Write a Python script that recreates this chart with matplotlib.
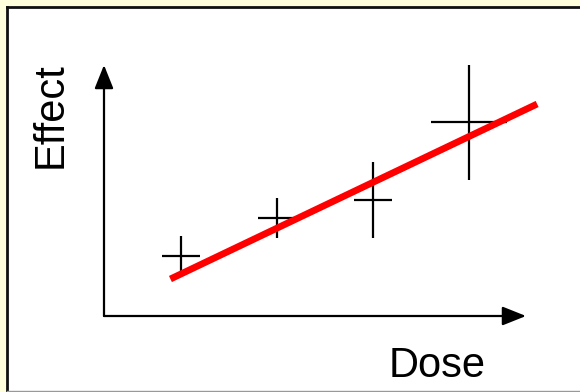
import matplotlib.pyplot as plt
from matplotlib.lines import Line2D
from matplotlib.patches import Rectangle

# measured points with their spread
dose = [1, 2, 3, 4]
effect = [3.0, 4.9, 5.8, 9.7]
dose_err = [0.2, 0.2, 0.2, 0.4]
effect_err = [1.0, 1.0, 1.9, 2.9]

# fitted trend line ends
fit_dose = [0.89, 4.71]
fit_effect = [1.85, 10.6]

W, H = 580, 392

plt.rcParams["font.family"] = ["Liberation Sans", "DejaVu Sans"]

fig = plt.figure(figsize=(W / 100, H / 100), dpi=100)
fig.patch.set_facecolor("#ffffdd")

# white panel with its frame, kept beneath the axes
fig.patches.append(Rectangle((6 / W, 1 / H), 1 - 6 / W, 1 - 7 / H,
                             transform=fig.transFigure,
                             facecolor="white", edgecolor="none", zorder=-2))
fig.add_artist(Line2D([7 / W, 1], [1 - 7 / H, 1 - 7 / H], color="#111111",
                      lw=2.0, zorder=-1))
fig.add_artist(Line2D([7 / W, 7 / W], [1.5 / H, 1 - 7 / H], color="#111111",
                      lw=2.0, zorder=-1))
fig.add_artist(Line2D([7 / W, 1], [1.5 / H, 1.5 / H], color="#999999",
                      lw=1.0, zorder=-1))

ax = fig.add_axes([104 / W, 76 / H, 422 / W, 251 / H])
ax.set_facecolor("none")
ax.set_xlim(0.198, 4.594)
ax.set_ylim(0, 12.55)
for side in ax.spines.values():
    side.set_visible(False)
ax.set_xticks([])
ax.set_yticks([])

# axes drawn as arrows
arrow = dict(arrowstyle="-|>,head_length=1.45,head_width=0.58",
             mutation_scale=10, lw=1.6, color="black",
             shrinkA=0, shrinkB=0)
ax.annotate("", xy=(1, 0), xytext=(0, 0), xycoords="axes fraction",
            textcoords="axes fraction", arrowprops=arrow)
ax.annotate("", xy=(0, 1), xytext=(0, 0), xycoords="axes fraction",
            textcoords="axes fraction", arrowprops=arrow)

ax.errorbar(dose, effect, xerr=dose_err, yerr=effect_err,
            fmt="none", ecolor="black", elinewidth=1.6, capsize=0, zorder=2)

ax.plot(fit_dose, fit_effect, color="red", lw=4.9,
        solid_capstyle="butt", clip_on=False, zorder=3)

fig.text(61.5 / W, 1 - 115 / H, "Effect", rotation=90, rotation_mode="anchor",
         ha="center", va="baseline", fontsize=30)
fig.text(437.5 / W, 1 - 377 / H, "Dose", ha="center", va="baseline",
         fontsize=30)

fig.savefig("out.png", dpi=100, facecolor=fig.get_facecolor())
plt.close(fig)
